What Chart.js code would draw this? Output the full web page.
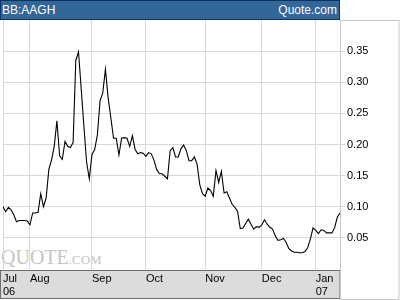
<!DOCTYPE html>
<html>
<head>
<meta charset="utf-8">
<script src="https://cdn.jsdelivr.net/npm/chart.js@4.4.0/dist/chart.umd.min.js"></script>
<style>
  html, body { margin: 0; padding: 0; background: #fff; }
  #wrap { position: relative; width: 400px; height: 300px; overflow: hidden; }
  #head {
    position: absolute; left: 0; top: 0; width: 338px; height: 18px;
    background: #336699; border: 1px solid #0d3260; z-index: 3;
    font: 12px "Liberation Sans", Arial, sans-serif; color: #fff; line-height: 18px;
  }
  #head .l { position: absolute; left: 1px; }
  #head .r { position: absolute; right: 2px; }
  #mark {
    position: absolute; left: 1px; top: 246px; z-index: 1;
    font-family: "Liberation Serif", "Times New Roman", serif; color: #c4c4c4;
  }
  #mark .big { font-size: 20px; }
  #mark .small { font-size: 13px; }
  #chart { position: absolute; left: 0; top: 0; z-index: 2; }
</style>
</head>
<body>
<div id="wrap">
  <div id="head"><span class="l">BB:AAGH</span><span class="r">Quote.com</span></div>
  <div id="mark"><span class="big">QUOTE</span><span class="small">.COM</span></div>
  <canvas id="chart" width="400" height="300"></canvas>
</div>
<script>
// month labels shown in the bottom box, and the trading-day index where each month begins
const months = ['Jul', 'Aug', 'Sep', 'Oct', 'Nov', 'Dec', 'Jan'];
const years = ['06', '', '', '', '', '', '07'];
const monthStart = [0, 10, 33, 53, 75, 96, 116];

// daily closing price, Jul 2006 - Jan 2007
const prices = [
    0.100, 0.092, 0.099, 0.095, 0.087, 0.076, 0.078, 0.078, 0.078, 0.077,
    0.071, 0.090, 0.090, 0.091, 0.121, 0.100, 0.114, 0.160, 0.175, 0.197,
    0.238, 0.182, 0.176, 0.205, 0.197, 0.195, 0.203, 0.335, 0.349, 0.290,
    0.230, 0.172, 0.145, 0.184, 0.192, 0.215, 0.270, 0.283, 0.321, 0.275,
    0.243, 0.210, 0.210, 0.183, 0.210, 0.211, 0.210, 0.197, 0.214, 0.192,
    0.185, 0.187, 0.186, 0.181, 0.187, 0.185, 0.175, 0.160, 0.153, 0.153,
    0.149, 0.145, 0.190, 0.195, 0.180, 0.180, 0.193, 0.199, 0.190, 0.174,
    0.174, 0.180, 0.168, 0.135, 0.121, 0.117, 0.130, 0.126, 0.117, 0.158,
    0.139, 0.157, 0.122, 0.124, 0.114, 0.104, 0.099, 0.093, 0.065, 0.066,
    0.073, 0.080, 0.072, 0.064, 0.068, 0.067, 0.071, 0.079, 0.072, 0.067,
    0.064, 0.053, 0.046, 0.047, 0.049, 0.043, 0.033, 0.029, 0.027, 0.027,
    0.026, 0.026, 0.028, 0.034, 0.048, 0.066, 0.062, 0.057, 0.063, 0.062,
    0.058, 0.058, 0.058, 0.066, 0.083, 0.090
];

const labels = prices.map((_, i) => {
    const m = monthStart.indexOf(i);
    return m < 0 ? '' : [months[m], years[m]];
});

// gray label box under the plot and the frame round the price axis
const frame = {
    id: 'frame',
    beforeDraw(chart) {
        const { ctx, chartArea: a } = chart;
        ctx.save();
        ctx.fillStyle = '#dcdcdc';
        ctx.fillRect(0, a.bottom + 1, a.right, 300 - a.bottom - 2);
        ctx.strokeStyle = '#6e6e6e';
        ctx.lineWidth = 1;
        ctx.strokeRect(0.5, a.bottom + 1.5, a.right - 0.5, 300 - a.bottom - 3);
        ctx.strokeStyle = '#c8c8c8';
        ctx.strokeRect(a.right + 0.5, a.top + 0.5, 399 - a.right - 0.5, 299 - a.top);
        ctx.restore();
    }
};

new Chart(document.getElementById('chart'), {
    type: 'line',
    data: {
        labels: labels,
        datasets: [{
            data: prices,
            borderColor: '#000',
            borderWidth: 1.1,
            pointRadius: 0,
            tension: 0,
            fill: false
        }]
    },
    options: {
        responsive: false,
        animation: false,
        layout: { padding: { left: 2, top: 20, right: 0, bottom: 0 } },
        plugins: { legend: { display: false }, tooltip: { enabled: false } },
        scales: {
            x: {
                afterFit: s => { s.height = 31; },
                border: { display: false },
                grid: { color: '#d8d8d8', drawTicks: false, lineWidth: 1 },
                ticks: {
                    autoSkip: false, maxRotation: 0, align: 'start', padding: 3,
                    color: '#000', font: { family: 'Liberation Sans', size: 11 },
                    callback: (v, i) => labels[i] === '' ? null : labels[i]
                }
            },
            y: {
                position: 'right',
                min: 0, max: 0.4,
                afterFit: s => { s.width = 60; },
                border: { display: false },
                grid: { color: '#d8d8d8', tickLength: 5, lineWidth: 1 },
                ticks: {
                    stepSize: 0.05, padding: 2,
                    color: '#000', font: { family: 'Liberation Sans', size: 11 },
                    callback: v => (v > 0.001 && v < 0.399) ? v.toFixed(2) : null
                }
            }
        }
    },
    plugins: [frame]
});
</script>
</body>
</html>
